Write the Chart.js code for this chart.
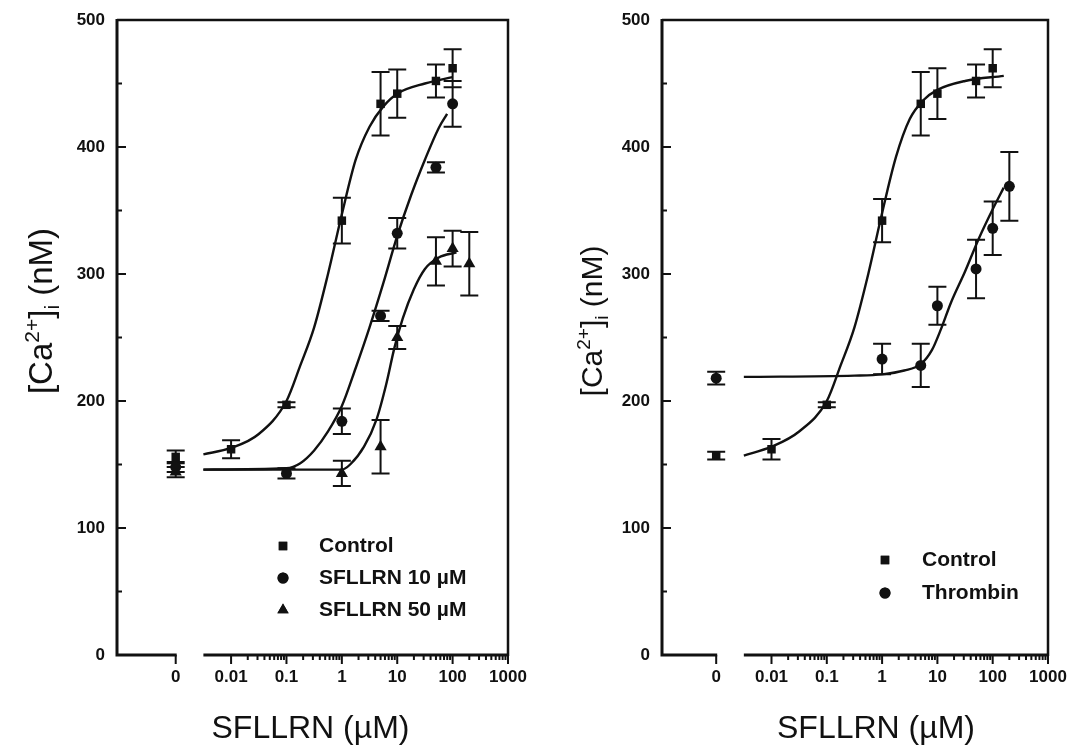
<!DOCTYPE html>
<html lang="en">
<head>
<meta charset="UTF-8">
<title>[Ca2+]i response to SFLLRN</title>
<script src="https://cdn.jsdelivr.net/npm/chart.js@4"></script>
<style>
  body { margin: 0; background: #fff; }
  .wrap { position: relative; width: 1075px; height: 750px; overflow: hidden; }
  .panel { position: absolute; top: 0; height: 750px; }
  #leftBox { left: 0; width: 537px; }
  #rightBox { left: 537px; width: 538px; }
</style>
</head>
<body>
<div class="wrap">
  <div class="panel" id="leftBox"><canvas id="chartLeft"></canvas></div>
  <div class="panel" id="rightBox"><canvas id="chartRight"></canvas></div>
</div>

<script>
// ---- x axis (SFLLRN, uM) ----
const xTickConc   = [0, 0.01, 0.1, 1, 10, 100, 1000];
const xTickLabels = ['0', '0.01', '0.1', '1', '10', '100', '1000'];

// ---- left panel: control vs SFLLRN pretreatment ----
const leftControlConc = [0, 0.01, 0.1, 1, 5, 10, 50, 100];
const leftControlCa   = [156, 162, 197, 342, 434, 442, 452, 462];
const leftControlSem  = [5, 7, 2, 18, 25, 19, 13, 15];

const leftS10Conc = [0, 0.1, 1, 5, 10, 50, 100];
const leftS10Ca   = [148, 143, 184, 267, 332, 384, 434];
const leftS10Sem  = [4, 4, 10, 4, 12, 4, 18];

const leftS50Conc = [0, 1, 5, 10, 50, 100, 200];
const leftS50Ca   = [144, 143, 164, 250, 310, 320, 308];
const leftS50Sem  = [4, 10, 21, 9, 19, 14, 25];

// fitted curves (x given as log10 of concentration)
const leftControlCurveLog = [-2.5, -2, -1.5, -1, -0.75, -0.5, -0.25, 0, 0.25, 0.5, 0.75, 1, 1.5, 2];
const leftControlCurveCa  = [158, 163, 174, 200, 228, 258, 300, 347, 390, 416, 432, 442, 450, 455];
const leftS10CurveLog = [-2.5, -1, -0.75, -0.5, -0.25, 0, 0.25, 0.5, 0.75, 1, 1.25, 1.5, 1.75, 1.9];
const leftS10CurveCa  = [146, 147, 151, 161, 176, 196, 226, 258, 293, 330, 362, 390, 415, 426];
const leftS50CurveLog = [-2.5, 0, 0.15, 0.4, 0.63, 0.8, 0.95, 1.1, 1.3, 1.5, 1.75, 2.07];
const leftS50CurveCa  = [146, 146, 150, 164, 186, 213, 242, 265, 288, 304, 313, 317];

// ---- right panel: control vs thrombin pretreatment ----
const rightControlConc = [0, 0.01, 0.1, 1, 5, 10, 50, 100];
const rightControlCa   = [157, 162, 197, 342, 434, 442, 452, 462];
const rightControlSem  = [3, 8, 2, 17, 25, 20, 13, 15];

const thrombinConc = [0, 1, 5, 10, 50, 100, 200];
const thrombinCa   = [218, 233, 228, 275, 304, 336, 369];
const thrombinSem  = [5, 12, 17, 15, 23, 21, 27];

const rightControlCurveLog = [-2.5, -2, -1.5, -1, -0.75, -0.5, -0.25, 0, 0.25, 0.5, 0.75, 1, 1.5, 2.2];
const rightControlCurveCa  = [157, 164, 176, 200, 228, 258, 300, 348, 392, 422, 437, 445, 452, 456];
const thrombinCurveLog = [-2.5, -0.5, 0, 0.4, 0.7, 0.9, 1.05, 1.25, 1.5, 1.75, 2, 2.2];
const thrombinCurveCa  = [219, 220, 221, 224, 229, 240, 255, 278, 302, 328, 351, 368];

const INK = '#111';
const FONT = '"Liberation Sans", Arial, Helvetica, sans-serif';
const ZERO_AT = -3;      // the "0" column sits one decade left of 0.01
const BREAK_END = -2.5;  // x axis resumes here after the break

function toX(c) { return c === 0 ? ZERO_AT : Math.log10(c); }
function pts(conc, ca) { return conc.map((c, i) => ({ x: toX(c), y: ca[i] })); }
function logPts(lx, ca) { return lx.map((v, i) => ({ x: v, y: ca[i] })); }

function markerSet(label, conc, ca, sem, style, radius) {
  return {
    label: label, data: pts(conc, ca), sem: sem,
    showLine: false, pointStyle: style, pointRadius: radius, pointHoverRadius: radius,
    pointBackgroundColor: INK, pointBorderColor: INK, pointBorderWidth: 0, order: 0
  };
}
function curveSet(lx, ca) {
  return {
    data: logPts(lx, ca), showLine: true, pointRadius: 0, pointHoverRadius: 0,
    borderColor: INK, borderWidth: 2.4, cubicInterpolationMode: 'monotone', fill: false, order: 1
  };
}

// frame, broken x axis, inward y ticks, log minor ticks, error bars
const panelDecor = {
  id: 'panelDecor',
  beforeDatasetsDraw(chart) {
    const { ctx, chartArea: a, scales: { x, y } } = chart;
    ctx.save();
    ctx.strokeStyle = INK;
    ctx.lineWidth = 2.5;
    ctx.beginPath();
    ctx.moveTo(a.left, a.top); ctx.lineTo(a.right, a.top); ctx.lineTo(a.right, a.bottom + 1);
    ctx.stroke();

    ctx.lineWidth = 3;
    ctx.beginPath();
    ctx.moveTo(a.left, a.top - 1); ctx.lineTo(a.left, a.bottom + 1.5);
    const zx = x.getPixelForValue(ZERO_AT);
    ctx.moveTo(a.left, a.bottom); ctx.lineTo(zx + 1, a.bottom);
    ctx.moveTo(x.getPixelForValue(BREAK_END), a.bottom); ctx.lineTo(a.right, a.bottom);
    ctx.stroke();

    ctx.lineWidth = 2;
    ctx.beginPath();
    x.ticks.forEach(t => {
      const px = x.getPixelForValue(t.value);
      ctx.moveTo(px, a.bottom); ctx.lineTo(px, a.bottom + 9);
    });
    for (let d = -2; d < 3; d++) {
      for (let m = 2; m < 10; m++) {
        const px = x.getPixelForValue(d + Math.log10(m));
        ctx.moveTo(px, a.bottom); ctx.lineTo(px, a.bottom + 5);
      }
    }
    y.ticks.forEach(t => {
      const py = y.getPixelForValue(t.value);
      ctx.moveTo(a.left, py); ctx.lineTo(a.left + 9, py);
      if (t.value < 500) {
        const pm = y.getPixelForValue(t.value + 50);
        ctx.moveTo(a.left, pm); ctx.lineTo(a.left + 5, pm);
      }
    });
    ctx.stroke();

    // error bars
    ctx.lineWidth = 2;
    ctx.beginPath();
    chart.data.datasets.forEach(ds => {
      if (!ds.sem) return;
      ds.data.forEach((p, i) => {
        const px = x.getPixelForValue(p.x);
        const top = y.getPixelForValue(p.y + ds.sem[i]);
        const bot = y.getPixelForValue(p.y - ds.sem[i]);
        ctx.moveTo(px, top); ctx.lineTo(px, bot);
        ctx.moveTo(px - 9, top); ctx.lineTo(px + 9, top);
        ctx.moveTo(px - 9, bot); ctx.lineTo(px + 9, bot);
      });
    });
    ctx.stroke();
    ctx.restore();
  },
  afterDraw(chart, args, opts) {
    const { ctx, chartArea: a } = chart;
    ctx.save();
    ctx.fillStyle = INK;

    // legend
    ctx.font = 'bold 21px ' + FONT;
    ctx.textBaseline = 'middle';
    ctx.textAlign = 'left';
    opts.legend.forEach((item, i) => {
      const ly = opts.legendY[i];
      Chart.helpers.drawPoint(ctx, {
        pointStyle: item.style, radius: item.radius, borderWidth: 0, rotation: 0
      }, opts.legendMarkX, ly);
      ctx.fill();
      ctx.fillText(item.label, opts.legendTextX, ly);
    });

    // x title
    ctx.font = '32px ' + FONT;
    ctx.textAlign = 'center';
    ctx.textBaseline = 'alphabetic';
    ctx.fillText('SFLLRN (\u00b5M)', (a.left + a.right) / 2 + opts.xTitleShift, 738);

    // y title with superscript / subscript
    const s = opts.yTitleSize;
    const small = Math.round(s * 0.64);
    const parts = [
      { t: '[Ca', f: s, dy: 0 },
      { t: '2+', f: small, dy: -s * 0.40 },
      { t: ']', f: s, dy: 0 },
      { t: 'i', f: small, dy: s * 0.20 },
      { t: ' (nM)', f: s, dy: 0 }
    ];
    let total = 0;
    parts.forEach(p => { ctx.font = p.f + 'px ' + FONT; p.w = ctx.measureText(p.t).width; total += p.w; });
    ctx.translate(opts.yTitleX, opts.yTitleY);
    ctx.rotate(-Math.PI / 2);
    ctx.textAlign = 'left';
    let cx = -total / 2;
    parts.forEach(p => {
      ctx.font = p.f + 'px ' + FONT;
      ctx.fillText(p.t, cx, p.dy);
      cx += p.w;
    });
    ctx.restore();
  }
};

function makePanel(id, o) {
  const tickFont = { family: FONT, size: 17, weight: 'bold' };
  return new Chart(document.getElementById(id), {
    type: 'scatter',
    data: { datasets: o.datasets },
    options: {
      responsive: true,
      maintainAspectRatio: false,
      animation: false,
      events: [],
      layout: { padding: { top: 20, right: o.padRight, bottom: 0, left: 0 } },
      plugins: {
        legend: { display: false },
        tooltip: { enabled: false },
        panelDecor: o.decor
      },
      scales: {
        x: {
          type: 'linear', min: o.xMin, max: o.xMax,
          grid: { display: false, drawTicks: false },
          border: { display: false },
          afterBuildTicks: s => { s.ticks = xTickConc.map(c => ({ value: toX(c) })); },
          afterFit: s => { s.height = 95; s.paddingLeft = 0; s.paddingRight = 0; },
          ticks: {
            autoSkip: false, maxRotation: 0, minRotation: 0, padding: 12, color: INK, font: tickFont,
            callback: (v, i) => xTickLabels[i]
          }
        },
        y: {
          min: 0, max: 500,
          grid: { display: false, drawTicks: false },
          border: { display: false },
          afterFit: s => { s.width = o.yWidth; s.paddingTop = 0; s.paddingBottom = 0; },
          ticks: { stepSize: 100, padding: 12, color: INK, font: tickFont }
        }
      }
    },
    plugins: [panelDecor]
  });
}

makePanel('chartLeft', {
  xMin: -4.06, xMax: 3, yWidth: 117, padRight: 29,
  datasets: [
    markerSet('Control', leftControlConc, leftControlCa, leftControlSem, 'rect', 6),
    markerSet('SFLLRN 10 \u00b5M', leftS10Conc, leftS10Ca, leftS10Sem, 'circle', 5.5),
    markerSet('SFLLRN 50 \u00b5M', leftS50Conc, leftS50Ca, leftS50Sem, 'triangle', 7),
    curveSet(leftControlCurveLog, leftControlCurveCa),
    curveSet(leftS10CurveLog, leftS10CurveCa),
    curveSet(leftS50CurveLog, leftS50CurveCa)
  ],
  decor: {
    legend: [
      { label: 'Control', style: 'rect', radius: 6 },
      { label: 'SFLLRN 10 \u00b5M', style: 'circle', radius: 5.5 },
      { label: 'SFLLRN 50 \u00b5M', style: 'triangle', radius: 6.5 }
    ],
    legendMarkX: 283, legendTextX: 319, legendY: [546, 578, 610],
    xTitleShift: -2,
    yTitleSize: 33, yTitleX: 52, yTitleY: 311
  }
});

makePanel('chartRight', {
  xMin: -3.98, xMax: 3, yWidth: 125, padRight: 27,
  datasets: [
    markerSet('Control', rightControlConc, rightControlCa, rightControlSem, 'rect', 6),
    markerSet('Thrombin', thrombinConc, thrombinCa, thrombinSem, 'circle', 5.5),
    curveSet(rightControlCurveLog, rightControlCurveCa),
    curveSet(thrombinCurveLog, thrombinCurveCa)
  ],
  decor: {
    legend: [
      { label: 'Control', style: 'rect', radius: 6 },
      { label: 'Thrombin', style: 'circle', radius: 5.5 }
    ],
    legendMarkX: 348, legendTextX: 385, legendY: [560, 593],
    xTitleShift: 21,
    yTitleSize: 30, yTitleX: 65, yTitleY: 321
  }
});
</script>
</body>
</html>
